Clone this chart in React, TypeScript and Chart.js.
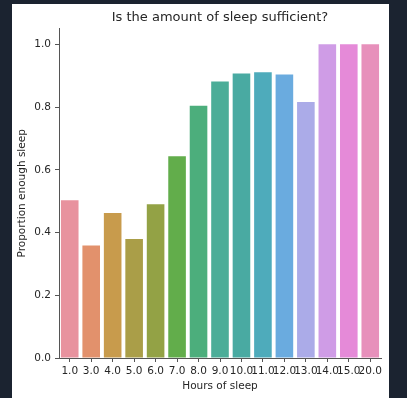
import React, { useEffect, useRef } from "react";
import { Chart, registerables } from "chart.js";

Chart.register(...registerables);

const categories = ["1.0", "3.0", "4.0", "5.0", "6.0", "7.0", "8.0", "9.0", "10.0", "11.0", "12.0", "13.0", "14.0", "15.0", "20.0"];
const proportions = [0.503, 0.359, 0.462, 0.379, 0.49, 0.643, 0.804, 0.881, 0.907, 0.911, 0.904, 0.816, 1.0, 1.0, 1.0];
const barColors = [
  "#e8929e", "#e2916c", "#c89b4c", "#aa9e48", "#93a245", "#62ad4b", "#4cae7c", "#4bad98",
  "#49aaa2", "#4eabbb", "#6aabdf", "#ababe8", "#cf9ce6", "#e58ad8", "#e790bb",
];
const yTicks = [0, 0.2, 0.4, 0.6, 0.8, 1.0];

const FONT = "'DejaVu Sans', sans-serif";

export default function App() {
  const ref = useRef<HTMLCanvasElement>(null);
  useEffect(() => {
    if (!ref.current) return;
    const chart = new Chart(ref.current, {
      type: "bar",
      data: {
        labels: categories,
        datasets: [
          {
            data: proportions,
            backgroundColor: barColors,
            borderWidth: 0,
            barPercentage: 0.82,
            categoryPercentage: 1,
          },
        ],
      },
      options: {
        responsive: false,
        animation: false,
        devicePixelRatio: 1,
        layout: { padding: { top: 0, right: 8, bottom: 0, left: 0 } },
        plugins: {
          legend: { display: false },
          tooltip: { enabled: false },
          title: {
            display: true,
            fullSize: false,
            text: "Is the amount of sleep sufficient?",
            color: "#262626",
            font: { family: FONT, size: 13, weight: "normal" },
            padding: { top: 6, bottom: 3 },
          },
        },
        scales: {
          x: {
            offset: true,
            grid: { display: true, drawOnChartArea: false, drawTicks: true, tickLength: 4, color: "#555", offset: false },
            border: { display: true, color: "#555", width: 1 },
            ticks: {
              color: "#262626",
              font: { family: FONT, size: 10.5 },
              autoSkip: false,
              maxRotation: 0,
              minRotation: 0,
              padding: 3,
            },
            title: {
              display: true,
              text: "Hours of sleep",
              color: "#262626",
              font: { family: FONT, size: 10.5 },
              padding: { top: 0, bottom: 5 },
            },
            afterFit: (s: any) => {
              s.height = 40;
            },
          },
          y: {
            min: 0,
            max: 1.05,
            grid: { display: true, drawOnChartArea: false, drawTicks: true, tickLength: 4, color: "#555" },
            border: { display: true, color: "#555", width: 1 },
            ticks: {
              color: "#262626",
              font: { family: FONT, size: 10.5 },
              padding: 4,
              includeBounds: false,
              stepSize: 0.2,
              callback: (v: any) => Number(v).toFixed(1),
            },
            afterBuildTicks: (s: any) => {
              s.ticks = yTicks.map((v) => ({ value: v }));
            },
            title: {
              display: true,
              text: "Proportion enough sleep",
              color: "#262626",
              font: { family: FONT, size: 10.5 },
              padding: { top: 4, bottom: 0 },
            },
            afterFit: (s: any) => {
              s.width = 47;
            },
          },
        },
      },
    });
    return () => chart.destroy();
  }, []);

  return (
    <div style={{ position: "fixed", left: 0, top: 0, width: 407, height: 398, background: "#1b2330" }}>
      <div style={{ position: "absolute", left: 12, top: 4, width: 377, height: 394, background: "#ffffff" }}>
        <canvas ref={ref} width={377} height={394} style={{ display: "block", width: 377, height: 394 }} />
      </div>
    </div>
  );
}
